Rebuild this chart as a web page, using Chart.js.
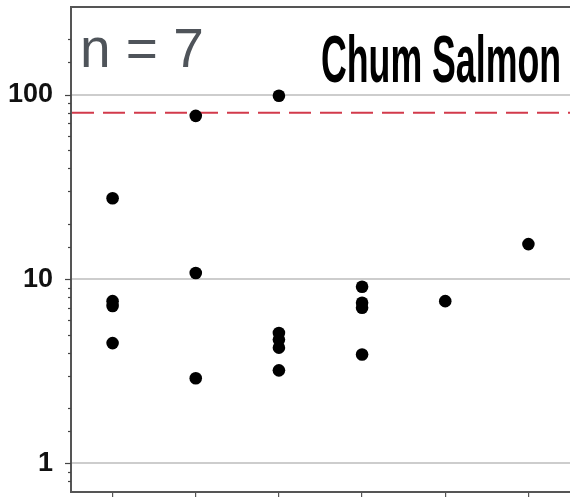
<!DOCTYPE html>
<html>
<head>
<meta charset="utf-8">
<script src="https://cdn.jsdelivr.net/npm/chart.js@4.4.1/dist/chart.umd.min.js"></script>
<style>
html,body{margin:0;padding:0;background:#fff;}
#wrap{width:570px;height:497px;}
</style>
</head>
<body>
<div id="wrap"><canvas id="c" width="570" height="497"></canvas></div>
<script>
const categories = ['1', '2', '3', '4', '5', '6'];
const cat1Values = [27.5, 7.6, 7.15, 4.5];
const cat2Values = [77, 10.8, 2.9];
const cat3Values = [99, 5.1, 4.7, 4.25, 3.2];
const cat4Values = [9.1, 7.45, 7.0, 3.9];
const cat5Values = [7.6];
const cat6Values = [15.5];
const seriesValues = [cat1Values, cat2Values, cat3Values, cat4Values, cat5Values, cat6Values];
const yTickLabels = [1, 10, 100];
const thresholdValue = 80;
const titleText = 'Chum Salmon';
const countText = 'n = 7';

const points = [];
seriesValues.forEach((vals, i) => vals.forEach(v => points.push({x: categories[i], y: v})));

const decor = {
  id: 'decor',
  beforeDatasetsDraw(chart) {
    const {ctx, chartArea} = chart;
    const ys = chart.scales.y;
    const yp = ys.getPixelForValue(thresholdValue);
    ctx.save();
    ctx.strokeStyle = '#d23a4b';
    ctx.lineWidth = 2;
    ctx.setLineDash([22, 9]);
    ctx.beginPath();
    ctx.moveTo(chartArea.left + 1, yp);
    ctx.lineTo(chartArea.right, yp);
    ctx.stroke();
    ctx.restore();
  },
  afterDraw(chart) {
    const {ctx, chartArea} = chart;
    const ys = chart.scales.y;
    ctx.save();
    // top frame line
    ctx.strokeStyle = '#555';
    ctx.lineWidth = 2;
    ctx.beginPath();
    ctx.moveTo(chartArea.left, chartArea.top);
    ctx.lineTo(chartArea.right, chartArea.top);
    ctx.stroke();
    // y ticks (major + minor) from library ticks
    ctx.lineWidth = 1.2;
    ctx.strokeStyle = '#444';
    ys.ticks.forEach(t => {
      if (t.value <= ys.min || t.value >= ys.max) return;
      const p = Math.round(ys.getPixelForValue(t.value)) + 0.5;
      const major = yTickLabels.includes(t.value);
      const len = major ? 6 : 3;
      ctx.beginPath();
      ctx.moveTo(chartArea.left - len, p);
      ctx.lineTo(chartArea.left, p);
      ctx.stroke();
    });
    // n = 7
    ctx.fillStyle = '#4f545a';
    ctx.font = '55px "Liberation Sans", Arial, sans-serif';
    ctx.textBaseline = 'alphabetic';
    ctx.textAlign = 'left';
    ctx.fillText(countText, 80, 67);
    // title (condensed bold)
    ctx.fillStyle = '#000';
    ctx.font = 'bold 67px "Liberation Sans Narrow", "Liberation Sans", Arial, sans-serif';
    const w = ctx.measureText(titleText).width;
    const sx = 240 / w;
    ctx.translate(321, 82);
    ctx.scale(sx, 1);
    ctx.fillText(titleText, 0, 0);
    ctx.restore();
  }
};

new Chart(document.getElementById('c'), {
  type: 'line',
  data: {
    labels: categories,
    datasets: [{
      data: points,
      showLine: false,
      pointRadius: 6.3,
      pointHoverRadius: 6.3,
      pointBackgroundColor: '#000',
      pointBorderColor: '#000',
      pointBorderWidth: 0
    }]
  },
  options: {
    responsive: false,
    animation: false,
    events: [],
    layout: {autoPadding: false, padding: {top: 7, right: 0, left: 0, bottom: 0}},
    plugins: {legend: {display: false}, tooltip: {enabled: false}},
    scales: {
      x: {
        type: 'category',
        offset: true,
        afterFit(scale) { scale.height = 5; scale.paddingLeft = 0; scale.paddingRight = 0; },
        grid: {offset: false, drawOnChartArea: false, drawTicks: true, tickLength: 5, color: '#555', lineWidth: 1.2},
        border: {color: '#555', width: 2},
        ticks: {display: false}
      },
      y: {
        type: 'logarithmic',
        min: 0.7,
        max: 300,
        afterFit(scale) { scale.width = 71; scale.paddingTop = 0; scale.paddingBottom = 0; },
        grid: {
          drawTicks: false,
          color: ctx => (ctx.tick && yTickLabels.includes(ctx.tick.value)) ? '#cdcdcd' : 'rgba(0,0,0,0)',
          lineWidth: 2
        },
        border: {color: '#555', width: 2},
        ticks: {
          autoSkip: false,
          padding: 18,
          color: '#111',
          font: {family: '"Liberation Sans Narrow", "Liberation Sans", Arial, sans-serif', weight: 'bold', size: 27},
          callback: v => yTickLabels.includes(v) ? String(v) : ''
        }
      }
    }
  },
  plugins: [decor]
});
</script>
</body>
</html>
